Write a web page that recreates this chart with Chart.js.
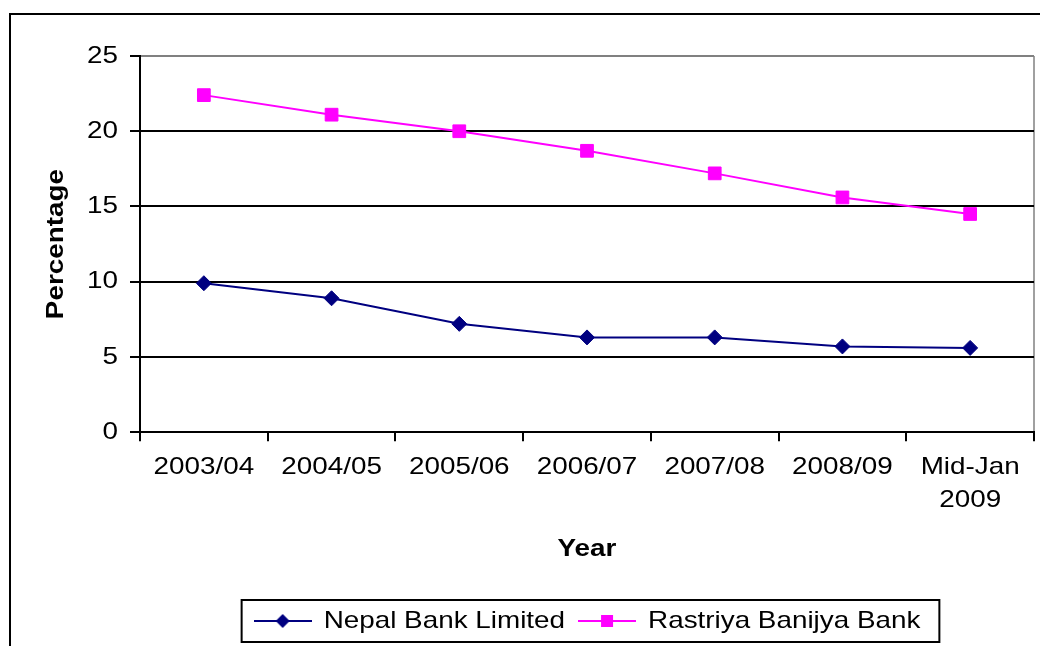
<!DOCTYPE html>
<html>
<head>
<meta charset="utf-8">
<script src="https://cdn.jsdelivr.net/npm/chart.js@4/dist/chart.umd.min.js"></script>
<style>
  html, body { margin: 0; padding: 0; background: #fff; overflow: hidden; }
  #frame {
    position: absolute; left: 9px; top: 13px;
    width: 1100px; height: 700px;
    border: 2px solid #000;
  }
  #wrap { position: absolute; left: 0; top: 0; width: 1040px; height: 646px; }
</style>
</head>
<body>
<div id="frame"></div>
<div id="wrap"><canvas id="chart"></canvas></div>
<script>
const years = ['2003/04', '2004/05', '2005/06', '2006/07', '2007/08', '2008/09', ['Mid-Jan', '2009']];
const nepalBank = [9.9, 8.9, 7.2, 6.3, 6.3, 5.7, 5.6];
const rastriyaBank = [22.4, 21.1, 20.0, 18.7, 17.2, 15.6, 14.5];
const seriesNames = ['Nepal Bank Limited', 'Rastriya Banijya Bank'];

const NAVY = '#000080';
const MAGENTA = '#ff00ff';
const FONT = "'Liberation Sans', Arial, sans-serif";
const TEXT_STRETCH = 1.16;

// wide text: every label is drawn a bit stretched horizontally
const stretchText = {
    id: 'stretchText',
    beforeInit(chart) {
        const ctx = chart.ctx;
        const fill = ctx.fillText.bind(ctx);
        const measure = ctx.measureText.bind(ctx);
        ctx.fillText = (text, x, y, maxWidth) => {
            ctx.save();
            ctx.translate(x, y);
            ctx.scale(TEXT_STRETCH, 1);
            if (maxWidth === undefined) fill(text, 0, 0);
            else fill(text, 0, 0, maxWidth / TEXT_STRETCH);
            ctx.restore();
        };
        ctx.measureText = (text) => {
            const m = measure(text);
            return {
                width: m.width * TEXT_STRETCH,
                actualBoundingBoxAscent: m.actualBoundingBoxAscent,
                actualBoundingBoxDescent: m.actualBoundingBoxDescent,
                actualBoundingBoxLeft: m.actualBoundingBoxLeft * TEXT_STRETCH,
                actualBoundingBoxRight: m.actualBoundingBoxRight * TEXT_STRETCH
            };
        };
    }
};

// line + marker icon for the legend
function legendIcon(color, shape) {
    const c = document.createElement('canvas');
    c.width = 58;
    c.height = 16;
    const g = c.getContext('2d');
    g.strokeStyle = color;
    g.fillStyle = color;
    g.lineWidth = 2;
    g.beginPath();
    g.moveTo(0, 8);
    g.lineTo(58, 8);
    g.stroke();
    g.beginPath();
    if (shape === 'diamond') {
        g.moveTo(22, 8); g.lineTo(29, 1); g.lineTo(36, 8); g.lineTo(29, 15);
        g.closePath();
    } else {
        g.rect(23, 2, 12, 12);
    }
    g.fill();
    return c;
}
const legendIcons = [legendIcon(NAVY, 'diamond'), legendIcon(MAGENTA, 'square')];

// black frame round the legend
const legendFrame = {
    id: 'legendFrame',
    afterDraw(chart) {
        const boxes = chart.legend.legendHitBoxes;
        if (!boxes || !boxes.length) return;
        const first = boxes[0];
        const last = boxes[boxes.length - 1];
        const cy = first.top + first.height / 2;
        const ctx = chart.ctx;
        ctx.save();
        ctx.strokeStyle = '#000';
        ctx.lineWidth = 2;
        ctx.strokeRect(first.left - 12, cy - 21, last.left + last.width + 19 - (first.left - 12), 42);
        ctx.restore();
    }
};

const ctx = document.getElementById('chart').getContext('2d');
new Chart(ctx, {
    type: 'line',
    data: {
        labels: years,
        datasets: [
            {
                label: seriesNames[0],
                data: nepalBank,
                borderColor: NAVY,
                backgroundColor: NAVY,
                borderWidth: 2,
                pointStyle: 'rectRot',
                pointRadius: 7.5,
                pointBorderWidth: 1,
                tension: 0
            },
            {
                label: seriesNames[1],
                data: rastriyaBank,
                borderColor: MAGENTA,
                backgroundColor: MAGENTA,
                borderWidth: 2,
                pointStyle: 'rect',
                pointRadius: 9,
                pointBorderWidth: 1,
                tension: 0
            }
        ]
    },
    options: {
        animation: false,
        responsive: true,
        maintainAspectRatio: false,
        devicePixelRatio: 1,
        layout: {
            autoPadding: false,
            padding: { left: 0, right: 6, top: 56, bottom: 3 }
        },
        plugins: {
            legend: {
                display: true,
                position: 'bottom',
                fullSize: false,
                labels: {
                    color: '#000',
                    font: { family: FONT, size: 24 },
                    usePointStyle: true,
                    pointStyleWidth: 58,
                    padding: 13,
                    generateLabels(chart) {
                        const items = Chart.defaults.plugins.legend.labels.generateLabels(chart);
                        items.forEach((it, i) => { it.pointStyle = legendIcons[i]; });
                        return items;
                    }
                }
            },
            tooltip: { enabled: false }
        },
        scales: {
            x: {
                offset: true,
                grid: {
                    offset: true,
                    drawTicks: true,
                    tickLength: 9,
                    tickWidth: 2,
                    tickColor: '#000',
                    lineWidth: 2,
                    // only the right edge of the plot shows a (grey) line
                    color: (c) => c.tick ? 'rgba(0,0,0,0)' : '#a0a0a0'
                },
                border: { display: true, color: '#000', width: 2 },
                ticks: {
                    color: '#000',
                    font: { family: FONT, size: 24, lineHeight: 1.375 },
                    padding: 10,
                    maxRotation: 0,
                    autoSkip: false
                },
                title: {
                    display: true,
                    text: 'Year',
                    color: '#000',
                    font: { family: FONT, size: 24, weight: 'bold' },
                    padding: { top: 8, bottom: 32 }
                }
            },
            y: {
                min: 0,
                max: 25,
                ticks: {
                    stepSize: 5,
                    color: '#000',
                    font: { family: FONT, size: 24 },
                    padding: 12
                },
                grid: {
                    tickLength: 10,
                    tickWidth: 2,
                    tickColor: '#000',
                    lineWidth: 2,
                    color: (c) => c.tick && c.tick.value === 25 ? '#808080' : '#000'
                },
                border: { display: true, color: '#000', width: 2 },
                title: {
                    display: true,
                    text: 'Percentage',
                    color: '#000',
                    font: { family: FONT, size: 24, weight: 'bold' },
                    padding: { top: 42, bottom: 0 }
                },
                afterFit(scale) {
                    scale.width = 140;
                }
            }
        }
    },
    plugins: [stretchText, legendFrame]
});
</script>
</body>
</html>
